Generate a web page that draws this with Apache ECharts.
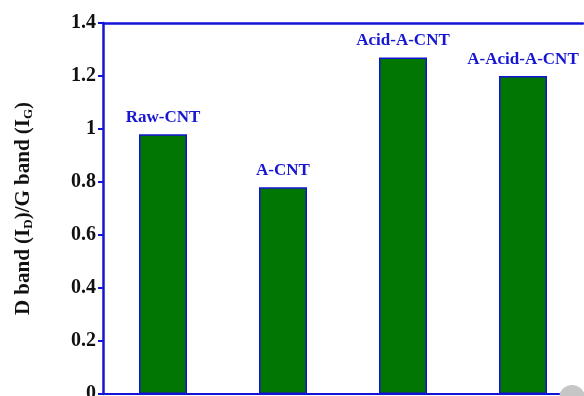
<!DOCTYPE html>
<html>
<head>
<meta charset="utf-8">
<script src="https://cdn.jsdelivr.net/npm/echarts@6/dist/echarts.min.js"></script>
<style>
  html, body { margin: 0; padding: 0; background: #fff; }
  #chart { width: 584px; height: 396px; }
</style>
</head>
<body>
<div id="chart"></div>
<script>
// Raman D/G band intensity ratio for each CNT sample
const samples = ['Raw-CNT', 'A-CNT', 'Acid-A-CNT', 'A-Acid-A-CNT'];
const ratios = [0.98, 0.78, 1.27, 1.2];

const axisBlue = '#1414d6';
const labelBlue = '#1717d2';
const barGreen = '#027602';
const serif = '"Liberation Serif", "Times New Roman", serif';

const chart = echarts.init(document.getElementById('chart'));
chart.setOption({
  animation: false,
  grid: { left: 103, right: 1, top: 23, bottom: 2, containLabel: false, outerBoundsMode: 'none' },
  xAxis: [
    {
      type: 'category',
      data: samples,
      position: 'bottom',
      axisLine: { show: true, lineStyle: { color: axisBlue, width: 2 } },
      axisTick: { show: false },
      axisLabel: { show: false },
      splitLine: { show: false }
    },
    {
      type: 'category',
      data: samples,
      position: 'top',
      axisLine: { show: true, lineStyle: { color: axisBlue, width: 2.5 } },
      axisTick: { show: false },
      axisLabel: { show: false },
      splitLine: { show: false }
    }
  ],
  yAxis: {
    type: 'value',
    min: 0,
    max: 1.4,
    interval: 0.2,
    axisLine: { show: true, lineStyle: { color: axisBlue, width: 2.5 } },
    axisTick: { show: true, inside: false, length: 5, lineStyle: { color: axisBlue, width: 2 } },
    splitLine: { show: false },
    axisLabel: {
      color: '#111',
      fontFamily: serif,
      fontWeight: 'bold',
      fontSize: 20,
      margin: 7,
      formatter: v => String(Math.round(v * 10) / 10)
    },
    name: '{m|D band (I}{s|D}{m|)/G band (I}{s|G}{m|)}',
    nameLocation: 'middle',
    nameRotate: 90,
    nameGap: 68,
    nameTextStyle: {
      color: '#111',
      fontFamily: serif,
      fontWeight: 'bold',
      rich: {
        m: { fontFamily: serif, fontWeight: 'bold', fontSize: 21, color: '#111' },
        s: { fontFamily: serif, fontWeight: 'bold', fontSize: 13, color: '#111', padding: [10, 0, 0, 0] }
      }
    }
  },
  series: [{
    type: 'bar',
    data: ratios,
    barWidth: 48,
    itemStyle: { color: barGreen, borderColor: axisBlue, borderWidth: 1.5 },
    label: {
      show: true,
      position: 'top',
      distance: 8,
      color: labelBlue,
      fontFamily: serif,
      fontWeight: 'bold',
      fontSize: 17,
      formatter: p => samples[p.dataIndex]
    }
  }],
  graphic: [{
    type: 'circle',
    shape: { cx: 572, cy: 398, r: 13 },
    style: { fill: '#c6c6c6' },
    z: 100
  }]
});
</script>
</body>
</html>
